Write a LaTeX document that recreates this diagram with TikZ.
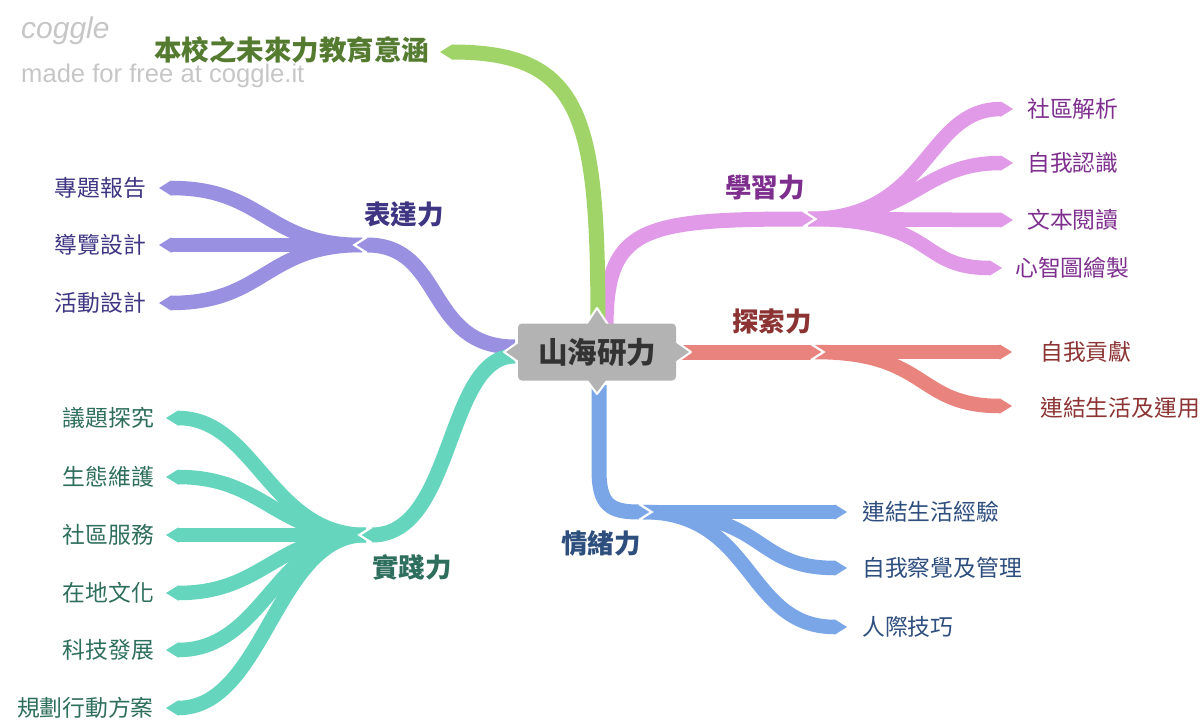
\documentclass[tikz,border=0pt]{standalone}
\usepackage{fontspec}
\setmainfont{Liberation Sans}
\newfontfamily\cjk{Noto Sans CJK TC}
\definecolor{gR}{HTML}{A0D468}
\definecolor{gT}{HTML}{547B2F}
\definecolor{pR}{HTML}{E09AE7}
\definecolor{pT}{HTML}{7E2F8E}
\definecolor{rR}{HTML}{E8837D}
\definecolor{rT}{HTML}{8C3434}
\definecolor{bR}{HTML}{7AA6E8}
\definecolor{bT}{HTML}{2E4E7E}
\definecolor{vR}{HTML}{9A90E2}
\definecolor{vT}{HTML}{3F3683}
\definecolor{tR}{HTML}{66D5BE}
\definecolor{tT}{HTML}{2E6E5C}
\definecolor{cB}{HTML}{B3B3B3}
\definecolor{cT}{HTML}{333333}
\definecolor{wm}{HTML}{C6C6C6}
\newcommand\tipR[2]{\fill[#2,shift={(#1)}] (-0.5,-7.5) -- (0,-7.5) -- (12,0) -- (0,7.5) -- (-0.5,7.5) -- cycle;}
\newcommand\tipL[2]{\fill[#2,shift={(#1)}] (0.5,-7.5) -- (0,-7.5) -- (-12,0) -- (0,7.5) -- (0.5,7.5) -- cycle;}
\newcommand\jtipR[2]{\tipR{#1}{#2}\draw[white,line width=2.2pt,shift={(#1)}] (0,-8) -- (12.6,0) -- (0,8);}
\newcommand\jtipL[2]{\tipL{#1}{#2}\draw[white,line width=2.2pt,shift={(#1)}] (0,-8) -- (-12.6,0) -- (0,8);}
\begin{document}
\begin{tikzpicture}[x=1pt,y=-1pt,
  ribbon/.style={line width=15pt,line cap=butt},
  leaf/.style={ribbon,line width=14.5pt},
  leafR/.style={anchor=west,inner sep=0pt,font=\cjk\fontsize{22.8}{26}\selectfont},
  leafL/.style={anchor=east,inner sep=0pt,font=\cjk\fontsize{22.8}{26}\selectfont},
  mainlab/.style={inner sep=0pt,font=\cjk\bfseries\fontsize{26.5}{30}\selectfont},
  centerbox/.style={fill=cB,rounded corners=4pt,minimum width=158pt,minimum height=57pt,inner sep=0pt,text=cT,font=\cjk\bfseries\fontsize{29.5}{32}\selectfont}]
\useasboundingbox (0,0) rectangle (1203,720);
% ---------- coordinates ----------
\coordinate (pS) at (606,328); \coordinate (pJ) at (803,219); \coordinate (pC) at (808,219);
\coordinate (p1) at (1001,109); \coordinate (p2) at (1001,163); \coordinate (p3) at (1001,220); \coordinate (p4) at (990,268);
\coordinate (rS) at (680,352); \coordinate (rJ) at (811,352); \coordinate (rC) at (815,352);
\coordinate (r1) at (1000,352); \coordinate (r2) at (1000,406);
\coordinate (bS) at (599,385); \coordinate (bM) at (599,470); \coordinate (bJ) at (639,512); \coordinate (bC) at (643,512);
\coordinate (b1) at (835,512); \coordinate (b2) at (835,568); \coordinate (b3) at (835,627);
\coordinate (gS) at (598,330); \coordinate (gE) at (452,52);
\coordinate (vS) at (515,347); \coordinate (vJ) at (367,245); \coordinate (vC) at (362,245);
\coordinate (v1) at (171,188); \coordinate (v2) at (171,245); \coordinate (v3) at (171,303);
\coordinate (tS) at (515,356); \coordinate (tJ) at (372,535); \coordinate (tC) at (366,535);
\coordinate (t1) at (178,418); \coordinate (t2) at (178,477); \coordinate (t3) at (178,535);
\coordinate (t4) at (178,593); \coordinate (t5) at (178,650); \coordinate (t6) at (178,708);
% ---------- child ribbons ----------
\draw[leaf,pR] (pC) .. controls (930,219) and (925,109) .. (p1);
\draw[leaf,pR] (pC) .. controls (915,219) and (920,163) .. (p2);
\draw[leaf,pR] (pC) -- (p3);
\draw[leaf,pR] (pC) .. controls (940,219) and (915,268) .. (p4);
\draw[leaf,rR] (rC) -- (r1);
\draw[leaf,rR] (rC) .. controls (930,352) and (915,406) .. (r2);
\draw[leaf,bR] (bC) -- (b1);
\draw[leaf,bR] (bC) .. controls (770,512) and (750,568) .. (b2);
\draw[leaf,bR] (bC) .. controls (755,512) and (745,627) .. (b3);
\draw[leaf,vR] (vC) .. controls (265,245) and (265,188) .. (v1);
\draw[leaf,vR] (vC) -- (v2);
\draw[leaf,vR] (vC) .. controls (265,245) and (265,303) .. (v3);
\draw[leaf,tR] (tC) .. controls (270,535) and (255,418) .. (t1);
\draw[leaf,tR] (tC) .. controls (275,535) and (265,477) .. (t2);
\draw[leaf,tR] (tC) -- (t3);
\draw[leaf,tR] (tC) .. controls (275,535) and (265,593) .. (t4);
\draw[leaf,tR] (tC) .. controls (275,535) and (265,650) .. (t5);
\draw[leaf,tR] (tC) .. controls (275,535) and (265,708) .. (t6);
% ---------- main ribbons ----------
\draw[ribbon,pR] (pS) .. controls (606,228) and (640,219) .. (pJ);
\draw[ribbon,rR] (rS) -- (rJ);
\draw[ribbon,bR] (bS) -- (bM) .. controls (599,505) and (610,512) .. (bJ);
\draw[ribbon,vR] (vS) .. controls (425,347) and (445,245) .. (vJ);
\draw[ribbon,tR] (tS) .. controls (445,356) and (455,535) .. (tJ);
\draw[ribbon,gR] (gS) .. controls (598,120) and (585,52) .. (gE);
% ---------- tips ----------
\jtipR{pJ}{pR} \jtipR{rJ}{rR} \jtipR{bJ}{bR} \jtipL{vJ}{vR} \jtipL{tJ}{tR}
\tipL{gE}{gR}
\tipR{p1}{pR} \tipR{p2}{pR} \tipR{p3}{pR} \tipR{p4}{pR}
\tipR{r1}{rR} \tipR{r2}{rR}
\tipR{b1}{bR} \tipR{b2}{bR} \tipR{b3}{bR}
\tipL{v1}{vR} \tipL{v2}{vR} \tipL{v3}{vR}
\tipL{t1}{tR} \tipL{t2}{tR} \tipL{t3}{tR} \tipL{t4}{tR} \tipL{t5}{tR} \tipL{t6}{tR}
% ---------- center node ----------
\filldraw[fill=cB,draw=white,line width=2pt,line join=round]
  (585,326) -- (597,308) -- (609,326)
  (585,378) -- (597,394) -- (609,378)
  (521,340) -- (504,352) -- (521,364)
  (674,340) -- (691,352) -- (674,364);
\node[centerbox] (c) at (597,352) {山海研力};
% ---------- labels ----------
\node[mainlab,text=gT,font=\cjk\bfseries\fontsize{27.5}{30}\selectfont] (g) at (291.5,50) {本校之未來力教育意涵};
\node[mainlab,text=pT] (p) at (765,188) {學習力};
\node[mainlab,text=rT] (r) at (772,322) {探索力};
\node[mainlab,text=bT] (b) at (601,543) {情緒力};
\node[mainlab,text=vT] (v) at (404,215) {表達力};
\node[mainlab,text=tT] (t) at (412,567) {實踐力};
\node[leafR,text=pT] (pl1) at (1027,109) {社區解析};
\node[leafR,text=pT] (pl2) at (1027,163) {自我認識};
\node[leafR,text=pT] (pl3) at (1027,220) {文本閱讀};
\node[leafR,text=pT] (pl4) at (1015,268) {心智圖繪製};
\node[leafR,text=rT] (rl1) at (1040,352) {自我貢獻};
\node[leafR,text=rT] (rl2) at (1040,408) {連結生活及運用};
\node[leafR,text=bT] (bl1) at (862,512) {連結生活經驗};
\node[leafR,text=bT] (bl2) at (862,568) {自我察覺及管理};
\node[leafR,text=bT] (bl3) at (862,627) {人際技巧};
\node[leafL,text=vT] (vl1) at (146,188) {專題報告};
\node[leafL,text=vT] (vl2) at (146,245) {導覽設計};
\node[leafL,text=vT] (vl3) at (146,303) {活動設計};
\node[leafL,text=tT] (tl1) at (154,418) {議題探究};
\node[leafL,text=tT] (tl2) at (154,477) {生態維護};
\node[leafL,text=tT] (tl3) at (154,535) {社區服務};
\node[leafL,text=tT] (tl4) at (154,593) {在地文化};
\node[leafL,text=tT] (tl5) at (154,650) {科技發展};
\node[leafL,text=tT] (tl6) at (154,708) {規劃行動方案};
% ---------- watermark ----------
\node[anchor=west,inner sep=0pt,text=wm,font=\itshape\fontsize{30}{32}\selectfont] (w1) at (21,31) {coggle};
\node[anchor=west,inner sep=0pt,text=wm,font=\fontsize{25.6}{28}\selectfont] (w2) at (21,76) {made for free at coggle.it};
\end{tikzpicture}
\end{document}
